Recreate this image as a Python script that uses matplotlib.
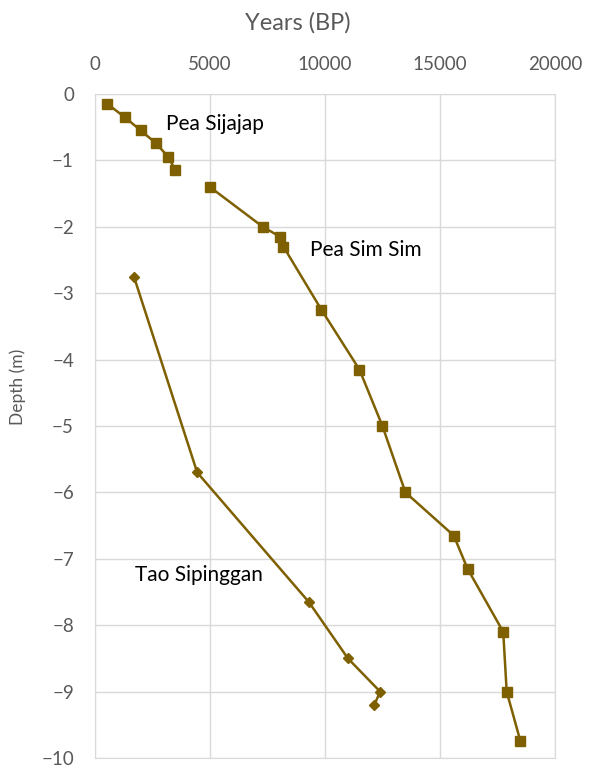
import matplotlib
matplotlib.use("Agg")
import matplotlib.pyplot as plt

plt.rcParams["font.family"] = ["Lato", "DejaVu Sans"]

# data
sijajap_years = [550, 1300, 2000, 2650, 3200, 3500]
sijajap_depth = [-0.15, -0.35, -0.55, -0.74, -0.95, -1.15]

simsim_years = [5000, 7300, 8050, 8200, 9850, 11500, 12500, 13500,
                15600, 16200, 17750, 17900, 18500]
simsim_depth = [-1.4, -2.0, -2.15, -2.3, -3.25, -4.15, -5.0, -6.0,
                -6.65, -7.15, -8.1, -9.0, -9.75]

tao_years = [1700, 4450, 9300, 11000, 12400, 12150]
tao_depth = [-2.75, -5.7, -7.65, -8.5, -9.0, -9.2]

x_ticks = [0, 5000, 10000, 15000, 20000]
y_ticks = [0, -1, -2, -3, -4, -5, -6, -7, -8, -9, -10]

COL = "#7f6000"
GRID = "#d9d9d9"
TXT = "#595959"

fig = plt.figure(figsize=(6, 7.69), dpi=100)
ax = fig.add_axes([0.158, 0.0143, 0.767, 0.8635])

ax.plot(sijajap_years, sijajap_depth, color=COL, lw=1.8, marker="s", ms=7)
ax.plot(simsim_years, simsim_depth, color=COL, lw=1.8, marker="s", ms=7)
ax.plot(tao_years, tao_depth, color=COL, lw=1.8, marker="D", ms=5)

ax.set_xlim(0, 20000)
ax.set_ylim(-10, 0)
ax.set_xticks(x_ticks)
ax.set_yticks(y_ticks)
ax.xaxis.tick_top()
ax.xaxis.set_label_position("top")
ax.tick_params(length=0, labelsize=13.5, labelcolor=TXT)
ax.tick_params(axis="x", pad=15)
ax.tick_params(axis="y", pad=15)
ax.grid(True, color=GRID, lw=1)
ax.set_axisbelow(True)
for s in ax.spines.values():
    s.set_color(GRID)

ax.set_xlabel("Years (BP)", fontsize=17, color=TXT)
ax.xaxis.set_label_coords(0.441, 1.097)
ax.set_ylabel("Depth (m)", fontsize=12.5, color=TXT)
ax.yaxis.set_label_coords(-0.15, 0.559)

ax.text(3100, -0.45, "Pea Sijajap", fontsize=15, color="black", va="center")
ax.text(9350, -2.35, "Pea Sim Sim", fontsize=15, color="black", va="center")
ax.text(1750, -7.25, "Tao Sipinggan", fontsize=15, color="black", va="center")

fig.savefig("out.png", dpi=100)
